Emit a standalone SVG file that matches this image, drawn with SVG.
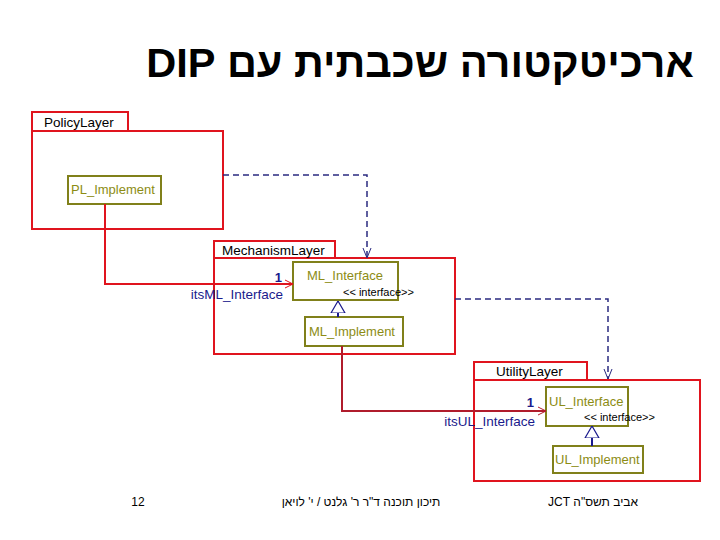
<svg xmlns="http://www.w3.org/2000/svg" width="720" height="540" viewBox="0 0 720 540">
<style>
.layer{fill:none;stroke:#e0141e;stroke-width:2}
.cls{fill:#fff;stroke:#80801a;stroke-width:2}
.lt{font-family:"Liberation Sans",Arial,sans-serif;font-size:13.5px;fill:#000}
.ct{font-family:"Liberation Sans",Arial,sans-serif;font-size:13px;fill:#8c8c14}
.st{font-family:"Liberation Sans",Arial,sans-serif;font-size:11px;fill:#000}
.rl{font-family:"Liberation Sans",Arial,sans-serif;font-size:13px;fill:#1a1a8c;font-weight:bold}
.rn{font-family:"Liberation Sans",Arial,sans-serif;font-size:13.5px;fill:#1a1a8c}
.ft{font-family:"Liberation Sans",Arial,sans-serif;font-size:12px;fill:#000}
.dash{fill:none;stroke:#2a2a80;stroke-width:1.5;stroke-dasharray:6,4}
</style>
<defs>
<marker id="openNavy" viewBox="0 0 10 10" refX="10" refY="5" markerWidth="10" markerHeight="10" markerUnits="userSpaceOnUse" orient="auto">
<path d="M0,1 L10,5 L0,9" fill="none" stroke="#2a2a80" stroke-width="1"/>
</marker>
<marker id="tri" viewBox="0 0 12 16" refX="12" refY="8" markerWidth="12" markerHeight="16" markerUnits="userSpaceOnUse" orient="auto">
<path d="M0,1 L12,8 L0,15 Z" fill="#fff" stroke="#1a1a8c" stroke-width="1.2"/>
</marker>
</defs>
<rect width="720" height="540" fill="#fff"/>

<text x="420" y="77" direction="rtl" unicode-bidi="embed" text-anchor="middle" font-family="'Liberation Sans','DejaVu Sans',sans-serif" font-weight="bold" font-size="41.5" fill="#000">ארכיטקטורה שכבתית עם DIP</text>

<g id="PolicyLayer">
<rect class="layer" x="32" y="112" width="96" height="19"/>
<rect class="layer" x="32" y="131" width="191" height="98"/>
<text class="lt" x="44" y="127">PolicyLayer</text>
</g>
<g id="PL_Implement">
<rect class="cls" x="68" y="176" width="93" height="28"/>
<text class="ct" x="71" y="194">PL_Implement</text>
</g>

<g id="MechanismLayer">
<rect class="layer" x="214" y="241" width="121" height="17"/>
<rect class="layer" x="214" y="258" width="241" height="96"/>
<text class="lt" x="222" y="255">MechanismLayer</text>
</g>
<g id="ML_Interface">
<rect class="cls" x="293" y="262" width="105" height="38"/>
<text class="ct" x="307" y="280">ML_Interface</text>
<text class="st" x="343" y="296">&lt;&lt; interface&gt;&gt;</text>
</g>
<g id="ML_Implement">
<rect class="cls" x="305" y="317" width="98" height="29"/>
<text class="ct" x="309" y="336">ML_Implement</text>
</g>

<g id="UtilityLayer">
<rect class="layer" x="474" y="362" width="113" height="18"/>
<rect class="layer" x="474" y="380" width="226" height="101"/>
<text class="lt" x="496" y="376">UtilityLayer</text>
</g>
<g id="UL_Interface">
<rect class="cls" x="546" y="387" width="82" height="39"/>
<text class="ct" x="549" y="406">UL_Interface</text>
<text class="st" x="584" y="421">&lt;&lt; interface&gt;&gt;</text>
</g>
<g id="UL_Implement">
<rect class="cls" x="553" y="446" width="90" height="27"/>
<text class="ct" x="555" y="464">UL_Implement</text>
</g>

<g id="connectors">
<polyline points="105,204 105,284 293,284" fill="none" stroke="#e0141e" stroke-width="2"/>
<path d="M285,280 L293,284 L285,288" fill="none" stroke="#e0141e" stroke-width="1"/>
<text class="rl" x="282" y="282" text-anchor="end">1</text>
<text class="rn" x="283" y="299" text-anchor="end">itsML_Interface</text>

<polyline points="342,346 342,411 546,411" fill="none" stroke="#b01c2c" stroke-width="2"/>
<path d="M538,407 L546,411 L538,415" fill="none" stroke="#b01c2c" stroke-width="1"/>
<text class="rl" x="534" y="407" text-anchor="end">1</text>
<text class="rn" x="535" y="426" text-anchor="end">itsUL_Interface</text>

<polyline class="dash" points="223,175 367,175 367,258" marker-end="url(#openNavy)"/>
<polyline class="dash" points="455,299 608,299 608,379" marker-end="url(#openNavy)"/>

<line x1="338" y1="317" x2="338" y2="301" stroke="#1a1a8c" stroke-width="2" marker-end="url(#tri)"/>
<line x1="592" y1="446" x2="592" y2="426" stroke="#1a1a8c" stroke-width="2" marker-end="url(#tri)"/>
</g>

<text class="ft" x="138" y="506" text-anchor="middle">12</text>
<text class="ft" x="361" y="506" text-anchor="middle" direction="rtl" unicode-bidi="embed">תיכון תוכנה ד"ר ר' גלנט / י' לויאן</text>
<text class="ft" x="593" y="506" text-anchor="middle" direction="rtl" unicode-bidi="embed" font-size="13">אביב תשס"ה JCT</text>
</svg>
